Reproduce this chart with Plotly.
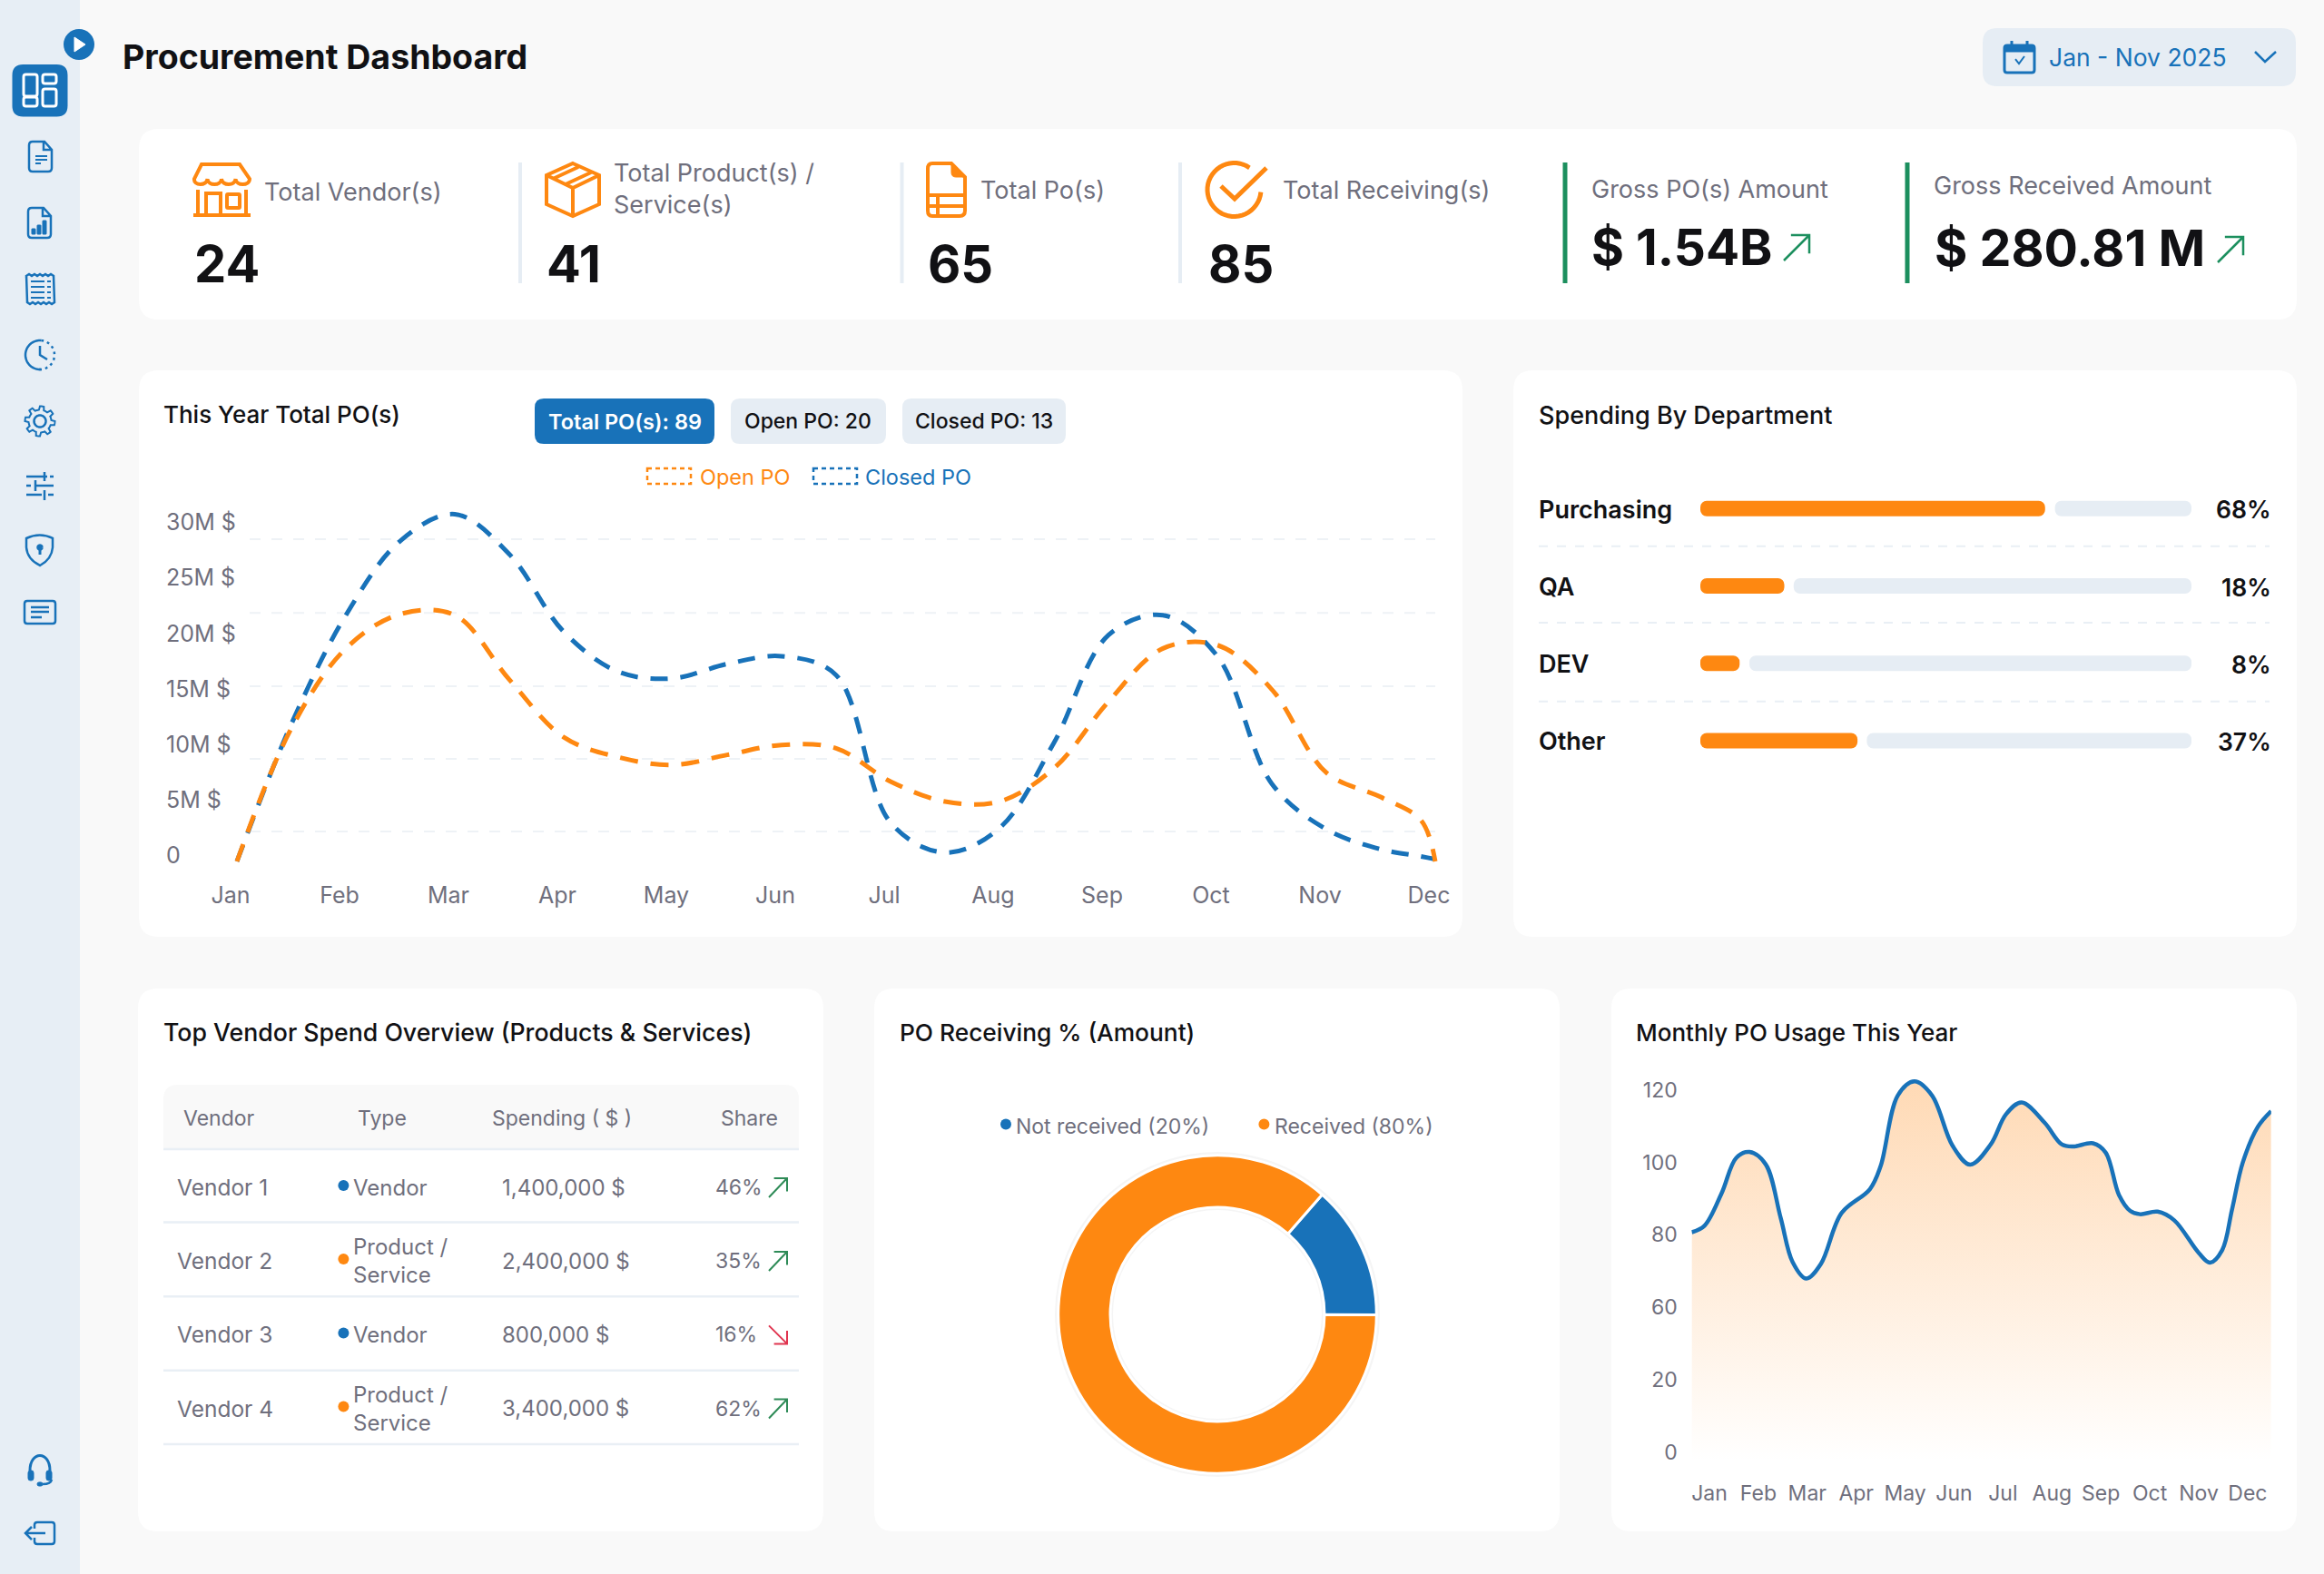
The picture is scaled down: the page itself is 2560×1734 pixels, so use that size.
import re
import math
import plotly.graph_objects as go

W, H = 2560, 1734
BLUE = "#1872B9"
ORANGE = "#FE8811"
GRAY = "#6F6F7D"
DARK = "#111114"
GREEN = "#1C8F5E"
RED = "#E0344F"
PALE = "#E6EDF4"
FONT = "Inter"

# ---- chart data ----
months = ["Jan", "Feb", "Mar", "Apr", "May", "Jun", "Jul", "Aug", "Sep", "Oct", "Nov", "Dec"]
month_index = [0, 1, 2, 3, 4, 5, 6, 7, 8, 9, 10, 11]

# line chart, read every half month (millions)
half_months = [0, 0.5, 1, 1.5, 2, 2.5, 3, 3.5, 4, 4.5, 5, 5.5, 6, 6.5, 7, 7.5, 8, 8.5, 9, 9.5, 10, 10.5, 10.87, 11]
closed_po = [0, 12.4, 22.2, 28.9, 31.3, 27.7, 20.7, 17.1, 16.5, 17.8, 18.5, 16.8,
             3.5, 0.8, 3.0, 10.7, 20.4, 22.2, 18.5, 7.0, 2.9, 1.1, 0.45, 0.2]
open_po = [0, 12.0, 19.2, 22.3, 22.2, 16.4, 11.2, 9.4, 8.7, 9.6, 10.5, 10.2,
           7.2, 5.4, 5.4, 8.4, 14.4, 19.2, 19.5, 15.5, 8.0, 5.8, 3.7, 0]
line_tick_vals = [0, 5, 10, 15, 20, 25, 30]
line_tick_text = ["0", "5M $", "10M $", "15M $", "20M $", "25M $", "30M $"]
line_grid_vals = [2.7, 9.25, 15.8, 22.4, 29.05]

# spending by department
departments = ["Purchasing", "QA", "DEV", "Other"]
dept_labels = ["68%", "18%", "8%", "37%"]
dept_base = [0, 0, 0, 0]
dept_fill = [70.2, 17.1, 8.0, 32.0]
dept_track_start = [72.2, 19.0, 10.0, 33.9]
dept_track_len = [27.8, 81.0, 90.0, 66.1]

# donut
donut_labels = ["Not received (20%)", "Received (80%)"]
donut_values = [13.6, 86.4]

# monthly usage, the axis labels skip 40 so the tick for "0" sits where 20 would be
usage_x = [-0.36, -0.1, 0.25, 0.55, 0.82, 1.15, 1.46, 1.70, 1.98, 2.28, 2.7, 3.28, 3.5, 3.85, 4.19, 4.55, 4.97, 5.33, 5.75,
           6.06, 6.38, 6.85, 7.2, 7.43, 7.84, 8.1, 8.37, 8.6, 8.8, 9.16, 9.5, 10.0, 10.23, 10.48, 10.68, 10.9, 11.21, 11.48]
usage_y = [80.7, 82.5, 91.5, 101.3, 102.9, 99.5, 84.5, 72.5, 67.9, 72.0, 86.0, 92.6, 99.0, 118.5, 122.4, 118.5, 104.6, 99.4, 105.0,
           113.3, 116.6, 111.0, 105.0, 104.4, 105.3, 102.7, 91.0, 86.6, 85.7, 86.4, 84.0, 75.0, 72.3, 75.8, 87.0, 100.0, 109.9, 114.2]
usage_tick_vals = [20, 40, 60, 80, 100, 120]
usage_tick_text = ["0", "20", "60", "80", "100", "120"]

# vendor table
vendors = ["Vendor 1", "Vendor 2", "Vendor 3", "Vendor 4"]
vendor_types = ["Vendor", "Product /<br>Service", "Vendor", "Product /<br>Service"]
vendor_spend = ["1,400,000 $", "2,400,000 $", "800,000 $", "3,400,000 $"]
vendor_share = ["46%", "35%", "16%", "62%"]
vendor_up = [True, True, False, True]

shapes = []
notes = []


def fx(x):
    return x / W


def fy(y):
    return 1 - y / H


def to_paper(d):
    # path written in screen pixels -> paper fractions
    return re.sub(r"(-?[\d.]+) (-?[\d.]+)", lambda m: f"{fx(float(m[1])):.5f},{fy(float(m[2])):.5f}", d)


def path(d, color=BLUE, width=3, fill=None, layer="above"):
    shapes.append(dict(type="path", xref="paper", yref="paper", path=to_paper(d), layer=layer,
                       line=dict(color=color, width=width), fillcolor=fill or "rgba(0,0,0,0)"))


def rrect(x0, y0, x1, y1, r):
    return (f"M{x0 + r} {y0} L{x1 - r} {y0} Q{x1} {y0} {x1} {y0 + r} L{x1} {y1 - r} Q{x1} {y1} {x1 - r} {y1} "
            f"L{x0 + r} {y1} Q{x0} {y1} {x0} {y1 - r} L{x0} {y0 + r} Q{x0} {y0} {x0 + r} {y0} Z")


def box(x0, y0, x1, y1, r, fill, layer="below"):
    shapes.append(dict(type="path", xref="paper", yref="paper", path=to_paper(rrect(x0, y0, x1, y1, r)),
                       layer=layer, line=dict(width=0), fillcolor=fill))


def arc(cx, cy, r, a0, a1, n=40):
    # angles in degrees, clockwise from 3 o'clock on screen
    pts = []
    for i in range(n + 1):
        a = math.radians(a0 + (a1 - a0) * i / n)
        pts.append(f"{cx + r * math.cos(a):.2f} {cy + r * math.sin(a):.2f}")
    return "M" + " L".join(pts)


def text(x, y, s, size=25, color=GRAY, anchor="left", weight=400, **kw):
    if anchor == "left":
        x -= 1.5
    notes.append(dict(xref="paper", yref="paper", x=fx(x), y=fy(y), text=s, showarrow=False, xanchor=anchor,
                      yanchor="middle", borderpad=0,
                      font=dict(family=FONT, size=size, color=color, weight=weight), **kw))


def trend(x0, y0, x1, y1, color, width=2.5):
    # up arrow if y1 < y0
    head = abs(x1 - x0) * 0.72
    if y1 < y0:
        path(f"M{x0} {y0} L{x1} {y1} M{x1 - head} {y1} L{x1} {y1} L{x1} {y1 + head}", color, width)
    else:
        path(f"M{x0} {y0} L{x1} {y1} M{x1 - head} {y1} L{x1} {y1} L{x1} {y1 - head}", color, width)


# ---- page furniture ----
box(0, 0, 88, H, 0.01, "#E7EEF5")
for c in [(153, 142, 2530, 352), (153, 408, 1611, 1032), (1667, 408, 2530, 1032),
          (152, 1089, 907, 1687), (963, 1089, 1718, 1687), (1775, 1089, 2530, 1687)]:
    box(*c, 22, "#FFFFFF")

text(135, 62, "Procurement Dashboard", 37.5, DARK, weight=700)

# date selector
box(2184, 31, 2529, 95, 16, PALE)
path(rrect(2208, 50, 2241, 80, 3), BLUE, 3)
path("M2208 50 L2241 50 L2241 57 L2208 57 Z", BLUE, 1, BLUE)
path("M2216 45 L2216 51 M2233 45 L2233 51", BLUE, 3)
path("M2220 65 L2224 70 L2230 62", BLUE, 2)
text(2257, 63, "Jan - Nov 2025", 26.5, BLUE)
path("M2484 57 L2495 68 L2507 57", BLUE, 2.5)

# sidebar icons
shapes.append(dict(type="circle", xref="paper", yref="paper", x0=fx(70), x1=fx(104), y0=fy(32), y1=fy(66),
                   fillcolor=BLUE, line=dict(width=0), layer="above"))
path("M82 41 L94 49 L82 57 Z", "#FFFFFF", 1, "#FFFFFF")
box(13.5, 71, 74.5, 128.5, 12, BLUE)
for r in [(26, 82, 41, 106), (47, 82, 62, 92), (26, 107, 41, 117), (47, 98, 62, 117)]:
    path(rrect(*r, 2.5), "#FFFFFF", 3)
path("M36 156 L49 156 L57 165 L57 185 Q57 189 53 189 L36 189 Q32 189 32 185 L32 160 Q32 156 36 156 Z "
     "M48 157 L48 165 L57 165", BLUE, 2.5)
path("M39 172 L52 172 M39 176 L52 176 M39 180 L45 180", BLUE, 2)
path("M35 229 L48 229 L56 238 L56 258 Q56 262 52 262 L35 262 Q31 262 31 258 L31 233 Q31 229 35 229 Z "
     "M47 230 L47 238 L56 238", BLUE, 2.5)
for b in [(35, 252, 39, 258), (41, 248, 45, 258), (47, 243, 51, 258)]:
    path(rrect(*b, 0.5), BLUE, 1, BLUE)
teeth = " ".join(f"L{x} {302 if i % 2 else 304}" for i, x in enumerate(range(29, 62, 3)))
teeth2 = " ".join(f"L{x} {335 if i % 2 else 333}" for i, x in enumerate(range(60, 28, -3)))
path(f"M29 303 {teeth} L60 333 {teeth2} Z", BLUE, 2.5)
path("M34 310 L49 310 M34 316 L49 316 M34 322 L49 322 M34 328 L49 328 M52 310 L56 310 M52 316 L56 316 "
     "M52 322 L56 322 M52 328 L56 328", BLUE, 2)
path(arc(44, 391, 16, 85, 275), BLUE, 2.5)
for a in range(-85, 90, 24):
    path(arc(44, 391, 16, a, a + 10, 3), BLUE, 2.5)
path("M44 381 L44 391 L52 396", BLUE, 2.5)
gear = []
for i in range(72):
    rg = 16.5 if (i % 9) in (0, 1, 2, 3) else 12.5
    a = math.radians(i * 5)
    gear.append(f"{44 + rg * math.cos(a):.1f} {464 + rg * math.sin(a):.1f}")
path("M" + " L".join(gear) + " Z", BLUE, 2)
path(arc(44, 464, 6.5, 0, 360), BLUE, 2.5)
path("M29 525 L52 525 M55 525 L59 525 M49 520 L49 530 M29 535 L34 535 M38 535 L59 535 M39 529 L39 541 "
     "M29 545 L46 545 M53 545 L59 545 M49 540 L49 551", BLUE, 2.5)
path("M29 593 Q44 586 58 593 L58 603 Q57 616 44 623 Q30 616 29 603 Z", BLUE, 2.5)
path(arc(44, 603, 2.5, 0, 360, 12), BLUE, 2.5, BLUE)
path("M44 604 L44 611", BLUE, 3)
path(rrect(27, 662, 61, 687, 3), BLUE, 2.5)
path("M34 669 L54 669 M34 674 L54 674 M34 680 L46 680", BLUE, 2.5)
path("M33 1620 C33 1598 55 1598 55 1620", BLUE, 3)
path(rrect(31, 1620, 37, 1631, 2.5), BLUE, 1, BLUE)
path(rrect(51, 1620, 57, 1631, 2.5), BLUE, 1, BLUE)
path("M57 1630 Q56 1635 47 1635", BLUE, 2.5)
path(rrect(41, 1633, 47, 1637, 2), BLUE, 1, BLUE)
path("M38 1684 L38 1680 Q38 1677 41 1677 L57 1677 Q60 1677 60 1680 L60 1698 Q60 1701 57 1701 L41 1701 Q38 1701 38 1698 L38 1694",
     BLUE, 2.5)
path("M50 1689 L28 1689 M35 1682 L28 1689 L35 1696", BLUE, 2.5)

# ---- kpi strip ----
ORANGE_W = 4
path("M222 181 L264 181 L275 197 C275 205 260 205 259.5 197 C259 205 244.5 205 244 197 C243.5 205 229 205 228.5 197 "
     "C228 205 213 205 214 197 Z", ORANGE, ORANGE_W)
path("M218 209 L218 236 M271 209 L271 236 M213 237 L276 237 M227 237 L227 213 L243 213 L243 237", ORANGE, ORANGE_W)
path(rrect(250, 214, 264, 229, 1), ORANGE, ORANGE_W)
path("M631 180 L660 193 L660 225 L631 238 L602 225 L602 193 Z M602 193 L631 207 L660 193 M631 207 L631 238 "
     "M637 184 L609 197 M651 190 L623 203", ORANGE, ORANGE_W)
path("M1027 180 L1048 180 L1063 195 L1063 232 Q1063 238 1057 238 L1027 238 Q1022 238 1022 232 L1022 186 Q1022 180 1027 180 Z "
     "M1022 215 L1063 215 M1022 227 L1063 227 M1033 215 L1033 238", ORANGE, ORANGE_W)
path("M1048 180 L1063 195 L1053 195 Q1048 195 1048 190 Z", ORANGE, 1, ORANGE)
path(arc(1359.5, 209, 29.5, 5, 305), ORANGE, 5)
path("M1345 205 L1360 219 L1395 185", ORANGE, 5)

for x, y0, col, wid in [(573, 179, PALE, 4), (993.5, 179, PALE, 4), (1300, 179, PALE, 4),
                        (1724, 179, GREEN, 5), (2101, 179, GREEN, 5)]:
    path(f"M{x} {y0} L{x} 312", col, wid)

text(291, 211, "Total Vendor(s)", 27)
text(676, 191, "Total Product(s) /", 27)
text(676, 226, "Service(s)", 27)
text(1080, 209, "Total Po(s)", 27)
text(1413, 209, "Total Receiving(s)", 27)
text(1753, 208, "Gross PO(s) Amount", 27)
text(2130, 204, "Gross Received Amount", 27)
text(214, 291, "24", 56, DARK, weight=700)
text(602, 291, "41", 56, DARK, weight=700)
text(1022, 291, "65", 56, DARK, weight=700)
text(1331, 291, "85", 56, DARK, weight=700)
text(1753, 272, "$ 1.54B", 55, DARK, weight=700)
text(2131, 273, "$ 280.81 M", 55.5, DARK, weight=700)
trend(1965, 287, 1993, 259, GREEN)
trend(2443, 289, 2471, 261, GREEN)

# ---- line chart card ----
text(180, 456, "This Year Total PO(s)", 26, DARK, weight=500)
box(589, 439, 787, 489, 10, BLUE)
box(805, 439, 976, 489, 10, PALE)
box(994, 439, 1174, 489, 10, PALE)
text(688, 464, "Total PO(s): 89", 23.5, "#FFFFFF", "center", 600)
text(890, 464, "Open PO: 20", 23, DARK, "center", 500)
text(1084, 464, "Closed PO: 13", 23, DARK, "center", 500)
for x0, col, lab, tx in [(713, ORANGE, "Open PO", 771), (896, BLUE, "Closed PO", 953)]:
    shapes.append(dict(type="rect", xref="paper", yref="paper", x0=fx(x0), x1=fx(x0 + 48), y0=fy(516), y1=fy(533),
                       fillcolor="rgba(0,0,0,0)", line=dict(color=col, width=2.5, dash="5px,4px"), layer="above"))
    text(tx, 525, lab, 23.5, col)

for v in line_grid_vals:
    shapes.append(dict(type="line", xref="x", yref="y", x0=0.117, x1=11.0, y0=v, y1=v, layer="below",
                       line=dict(color="#EEF2F6", width=2, dash="12px,12px")))
for v, lab in zip(line_tick_vals, line_tick_text):
    notes.append(dict(xref="paper", yref="y", x=fx(181.5), y=v, yshift=7, text=lab, showarrow=False, xanchor="left",
                      yanchor="middle", borderpad=0, font=dict(family=FONT, size=25, color=GRAY)))

fig = go.Figure()
fig.add_trace(go.Scatter(x=half_months, y=closed_po, name="Closed PO", mode="lines", xaxis="x", yaxis="y",
                         line=dict(color=BLUE, width=5, shape="spline", smoothing=1, dash="19px,14px")))
fig.add_trace(go.Scatter(x=half_months, y=open_po, name="Open PO", mode="lines", xaxis="x", yaxis="y",
                         line=dict(color=ORANGE, width=5, shape="spline", smoothing=1, dash="20px,14px")))

# ---- spending card ----
text(1695, 457, "Spending By Department", 27, DARK, weight=500)
fig.add_trace(go.Bar(y=departments, x=dept_fill, base=dept_base, orientation="h", width=0.2,
                     marker=dict(color=ORANGE, line=dict(width=0), cornerradius=7), name="Spent", xaxis="x2", yaxis="y2"))
fig.add_trace(go.Bar(y=departments, x=dept_track_len, base=dept_track_start, orientation="h", width=0.2,
                     marker=dict(color=PALE, line=dict(width=0), cornerradius=7), name="Remaining", xaxis="x2", yaxis="y2"))
for d, lab in zip(departments, dept_labels):
    notes.append(dict(xref="paper", yref="y2", x=fx(1694), y=d, text=d, showarrow=False, xanchor="left", yanchor="middle",
                      borderpad=0, yshift=-1, font=dict(family=FONT, size=27, color=DARK, weight=600)))
    notes.append(dict(xref="paper", yref="y2", x=fx(2503), y=d, text=lab, showarrow=False, xanchor="right", yanchor="middle",
                      borderpad=0, yshift=-1, font=dict(family=FONT, size=26.5, color=DARK, weight=600)))
for y in [601.7, 686, 772.7]:
    shapes.append(dict(type="line", xref="paper", yref="paper", x0=fx(1695), x1=fx(2500), y0=fy(y), y1=fy(y),
                       layer="below", line=dict(color="#E9EFF5", width=2, dash="10px,10px")))

# ---- vendor table ----
text(180, 1137, "Top Vendor Spend Overview (Products &amp; Services)", 26.7, DARK, weight=500)
path("M180 1266 L180 1211 Q180 1195 196 1195 L864 1195 Q880 1195 880 1211 L880 1266 Z", "rgba(0,0,0,0)", 0, "#F9F9F9", "below")
for y in [1266, 1346.4, 1428.3, 1509.8, 1591]:
    path(f"M180 {y} L880 {y}", "#E9EFF5", 2.5, layer="below")
for x, lab in [(202, "Vendor"), (394.6, "Type"), (542, "Spending ( $ )"), (794, "Share")]:
    text(x, 1232, lab, 23)
row_ys = [1308, 1389, 1470.4, 1551.5]
for i, y in enumerate(row_ys):
    text(195, y, vendors[i], 24.5)
    dot_col = BLUE if vendor_types[i] == "Vendor" else ORANGE
    shapes.append(dict(type="circle", xref="paper", yref="paper", x0=fx(372.4), x1=fx(384.4), y0=fy(y - 8), y1=fy(y + 4),
                       fillcolor=dot_col, line=dict(width=0), layer="above"))
    text(389.7, y, vendor_types[i], 24, align="left")
    text(553.7, y, vendor_spend[i], 24)
    text(788, y, vendor_share[i], 23)
    if vendor_up[i]:
        trend(847, y + 11, 867, y - 10, "#2E8B57", 2)
    else:
        trend(847, y - 10, 867, y + 10, RED, 2)

# ---- donut card ----
text(991, 1137, "PO Receiving % (Amount)", 26.3, DARK, weight=500)
for x, col in [(1108, BLUE), (1392.4, ORANGE)]:
    shapes.append(dict(type="circle", xref="paper", yref="paper", x0=fx(x - 6), x1=fx(x + 6), y0=fy(1232.6), y1=fy(1244.6),
                       fillcolor=col, line=dict(width=0), layer="above"))
text(1119.6, 1240.6, donut_labels[0], 23)
text(1404, 1240.6, donut_labels[1], 23)
shapes.append(dict(type="circle", xref="paper", yref="paper", x0=fx(1162), x1=fx(1520), y0=fy(1269), y1=fy(1627),
                   fillcolor="#F5F5F5", line=dict(width=0), layer="below"))
shapes.append(dict(type="circle", xref="paper", yref="paper", x0=fx(1226), x1=fx(1456), y0=fy(1333), y1=fy(1563),
                   fillcolor="#FFFFFF", line=dict(width=0), layer="below"))
fig.add_trace(go.Pie(labels=donut_labels, values=donut_values, hole=0.673, sort=False, direction="clockwise", rotation=41.2,
                     textinfo="none", showlegend=False, marker=dict(colors=[BLUE, ORANGE], line=dict(color="#FFFFFF", width=3)),
                     domain=dict(x=[fx(1165.7), fx(1516.3)], y=[fy(1623.5), fy(1272.5)])))

# ---- usage card ----
text(1802, 1137, "Monthly PO Usage This Year", 26, DARK, weight=500)
fig.add_trace(go.Scatter(x=usage_x, y=usage_y, mode="lines", name="PO usage", xaxis="x3", yaxis="y3", fill="tozeroy",
                         line=dict(color=BLUE, width=4.5, shape="spline", smoothing=1),
                         fillgradient=dict(type="vertical", start=17.5, stop=122.4,
                                           colorscale=[[0, "rgba(254,134,16,0.0)"], [1, "rgba(254,134,16,0.31)"]])))

tick_font = dict(family=FONT, size=25, color=GRAY)
fig.update_layout(
    width=W, height=H, margin=dict(l=0, r=0, t=0, b=0, autoexpand=False), autosize=False,
    paper_bgcolor="#F9F9F9", plot_bgcolor="rgba(0,0,0,0)", showlegend=False,
    font=dict(family=FONT), shapes=shapes, annotations=notes, barmode="overlay", barcornerradius=7,
    xaxis=dict(domain=[fx(249), fx(1593)], range=[-0.1, 11.1], tickvals=month_index, ticktext=months, showgrid=False,
               zeroline=False, showline=False, ticks="", tickfont=tick_font, ticklabelshift=-7, ticklabelstandoff=8,
               automargin=False),
    yaxis=dict(domain=[fy(961.2), fy(545.7)], range=[-1, 33], showticklabels=False, showgrid=False, zeroline=False,
               ticks="", automargin=False),
    xaxis2=dict(domain=[fx(1873), fx(2414)], range=[0, 100], visible=False, anchor="y2", automargin=False),
    yaxis2=dict(domain=[fy(858.6), fy(517.7)], range=[3.5, -0.5], visible=False, type="category", anchor="x2",
                categoryorder="array", categoryarray=departments, automargin=False),
    xaxis3=dict(domain=[fx(1863.3), fx(2501.8)], range=[-0.365, 11.48], tickvals=month_index, ticktext=months, showgrid=False,
                zeroline=False, showline=False, ticks="", tickfont=dict(family=FONT, size=23, color=GRAY), ticklabelstandoff=20,
                anchor="y3", automargin=False),
    yaxis3=dict(domain=[fy(1609.4), fy(1181)], range=[17.5, 125], tickvals=usage_tick_vals, ticktext=usage_tick_text,
                showgrid=False, zeroline=False, showline=False, ticks="outside", ticklen=10, tickcolor="rgba(0,0,0,0)",
                tickfont=dict(family=FONT, size=23, color=GRAY), anchor="x3", automargin=False),
)

fig.write_html("out.html", config=dict(displayModeBar=False),
               post_script="document.body.style.margin='0';document.body.style.overflow='hidden';")
